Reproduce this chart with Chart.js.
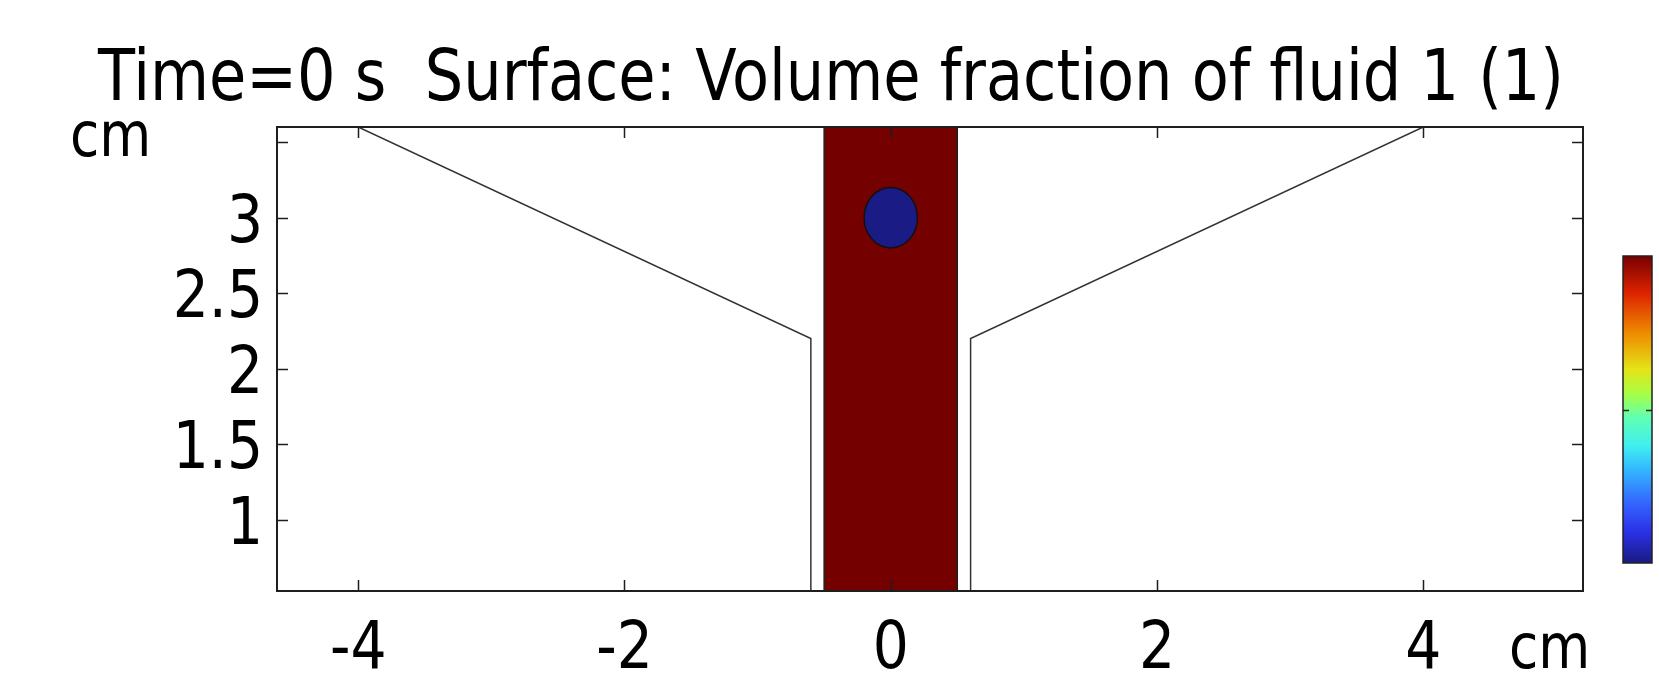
<!DOCTYPE html>
<html>
<head>
<meta charset="utf-8">
<title>Volume fraction of fluid 1</title>
<script src="https://cdn.jsdelivr.net/npm/chart.js@4.4.1/dist/chart.umd.min.js"></script>
<style>
  html, body { margin: 0; padding: 0; background: #fff; }
  canvas { display: block; }
</style>
</head>
<body>
<canvas id="phaseChart" width="1659" height="678"></canvas>
<script>
// channel geometry (cm)
const channelX = [-0.5, -0.5, 0.5, 0.5];
const channelY = [0.5, 3.6, 3.6, 0.5];
const leftWallX = [-4, -0.6, -0.6];
const leftWallY = [3.6, 2.2, 0.5];
const rightWallX = [4, 0.6, 0.6];
const rightWallY = [3.6, 2.2, 0.5];

// drop of fluid 2 at t = 0
const dropCenter = [0, 3];
const dropRadius = 0.2;

// axes
const xRange = [-4.61, 5.2];
const yRange = [0.53, 3.6];
const xTicks = [-4, -2, 0, 2, 4];
const yTicks = [1, 1.5, 2, 2.5, 3, 3.5];
const xTickLabels = ['-4', '-2', '0', '2', '4'];
const yTickLabels = ['1', '1.5', '2', '2.5', '3', ''];
const unitLabel = 'cm';
const titleText = 'Time=0 s  Surface: Volume fraction of fluid 1 (1)';

// rainbow table for the color legend, volume fraction 0 -> 1
const rainbowStops = [0, 0.1, 0.2, 0.3, 0.38, 0.47, 0.55, 0.63, 0.75, 0.88, 1];
const rainbowColors = ['#1a1a80', '#2a30e6', '#3468ff', '#33b4ff', '#40eef0', '#5effb6',
  '#a6ff45', '#e4e416', '#ee8a00', '#dc2200', '#780000'];

const fluid1Color = '#740000';
const fluid2Color = '#1b1b85';
const ink = '#1e1e1e';
const FONT = '"DejaVu Sans", sans-serif';
const SQUEEZE = 0.86;   // narrow glyphs, like the solver's export

const toPoints = (xs, ys) => xs.map((x, i) => ({ x: x, y: ys[i] }));

function squeezedText(ctx, text, x, y, size, align, sx) {
  ctx.save();
  ctx.font = size + 'px ' + FONT;
  ctx.fillStyle = '#000';
  ctx.textAlign = align;
  ctx.textBaseline = 'alphabetic';
  ctx.translate(x, y);
  ctx.scale(sx, 1);
  ctx.fillText(text, 0, 0);
  ctx.restore();
}

// the drop, as an ellipse in data units
const dropPlugin = {
  id: 'drop',
  afterDatasetsDraw(chart) {
    const { ctx, chartArea } = chart;
    const xs = chart.scales.x, ys = chart.scales.y;
    const cx = xs.getPixelForValue(dropCenter[0]);
    const cy = ys.getPixelForValue(dropCenter[1]);
    const rx = Math.abs(xs.getPixelForValue(dropCenter[0] + dropRadius) - cx);
    const ry = Math.abs(ys.getPixelForValue(dropCenter[1] + dropRadius) - cy);
    ctx.save();
    ctx.beginPath();
    ctx.rect(chartArea.left, chartArea.top, chartArea.width, chartArea.height);
    ctx.clip();
    ctx.beginPath();
    ctx.ellipse(cx, cy, rx, ry, 0, 0, Math.PI * 2);
    ctx.fillStyle = fluid2Color;
    ctx.fill();
    ctx.lineWidth = 1.5;
    ctx.strokeStyle = '#111';
    ctx.stroke();
    ctx.restore();
  }
};

// box frame, inward ticks, labels, title and color legend
const framePlugin = {
  id: 'frame',
  afterDraw(chart) {
    const { ctx, chartArea: a } = chart;
    const xs = chart.scales.x, ys = chart.scales.y;
    const tl = 11;

    ctx.save();
    ctx.strokeStyle = ink;
    ctx.lineWidth = 1.5;
    ctx.beginPath();
    xs.ticks.forEach(t => {
      const px = Math.round(xs.getPixelForValue(t.value)) + 0.5;
      ctx.moveTo(px, a.bottom); ctx.lineTo(px, a.bottom - tl);
      ctx.moveTo(px, a.top); ctx.lineTo(px, a.top + tl);
    });
    ys.ticks.forEach(t => {
      const py = Math.round(ys.getPixelForValue(t.value)) + 0.5;
      ctx.moveTo(a.left, py); ctx.lineTo(a.left + tl, py);
      ctx.moveTo(a.right, py); ctx.lineTo(a.right - tl, py);
    });
    ctx.stroke();
    ctx.lineWidth = 2;
    ctx.strokeRect(a.left, a.top, a.right - a.left, a.bottom - a.top);
    ctx.restore();

    // tick labels
    xs.ticks.forEach((t, i) => {
      squeezedText(ctx, xTickLabels[i], xs.getPixelForValue(t.value), 668, 66, 'center', SQUEEZE);
    });
    ys.ticks.forEach((t, i) => {
      if (!yTickLabels[i]) return;
      squeezedText(ctx, yTickLabels[i], a.left - 14, ys.getPixelForValue(t.value) + 24, 66, 'right', SQUEEZE);
    });
    squeezedText(ctx, unitLabel, 70, 156, 62, 'left', SQUEEZE);
    squeezedText(ctx, unitLabel, 1509, 668, 62, 'left', SQUEEZE);

    // title, stretched across the plot
    ctx.save();
    ctx.font = '71px ' + FONT;
    const tw = ctx.measureText(titleText).width;
    ctx.restore();
    squeezedText(ctx, titleText, 98, 100, 71, 'left', 1466 / tw);

    // color legend
    const bx = 1623, bw = 29, bTop = 256, bBottom = 563;
    const grad = ctx.createLinearGradient(0, bBottom, 0, bTop);
    rainbowStops.forEach((s, i) => grad.addColorStop(s, rainbowColors[i]));
    ctx.save();
    ctx.fillStyle = grad;
    ctx.fillRect(bx, bTop, bw, bBottom - bTop);
    ctx.strokeStyle = '#222';
    ctx.lineWidth = 1.5;
    ctx.strokeRect(bx, bTop, bw, bBottom - bTop);
    const mid = Math.round((bTop + bBottom) / 2) + 0.5;
    ctx.beginPath();
    ctx.moveTo(bx, mid); ctx.lineTo(bx + 6, mid);
    ctx.moveTo(bx + bw, mid); ctx.lineTo(bx + bw - 6, mid);
    ctx.stroke();
    ctx.restore();
  }
};

const lineStyle = {
  showLine: true,
  pointRadius: 0,
  pointHoverRadius: 0,
  tension: 0,
  clip: 0,
};

const data = {
  datasets: [
    {
      ...lineStyle,
      label: 'fluid 1',
      data: toPoints(channelX, channelY),
      borderColor: ink,
      borderWidth: 1.5,
      backgroundColor: fluid1Color,
      fill: 'start',
    },
    {
      ...lineStyle,
      label: 'left wall',
      data: toPoints(leftWallX, leftWallY),
      borderColor: '#333',
      borderWidth: 1.5,
      fill: false,
    },
    {
      ...lineStyle,
      label: 'right wall',
      data: toPoints(rightWallX, rightWallY),
      borderColor: '#333',
      borderWidth: 1.5,
      fill: false,
    },
  ],
};

const config = {
  type: 'scatter',
  data,
  options: {
    responsive: false,
    animation: false,
    devicePixelRatio: 1,
    layout: { padding: { top: 127, right: 76, left: 0, bottom: 0 } },
    plugins: {
      legend: { display: false },
      tooltip: { enabled: false },
    },
    scales: {
      x: {
        type: 'linear',
        min: xRange[0],
        max: xRange[1],
        afterBuildTicks: (scale) => { scale.ticks = xTicks.map(v => ({ value: v })); },
        afterFit: (scale) => { scale.height = 87; },
        ticks: { display: false },
        grid: { display: false },
        border: { display: false },
      },
      y: {
        type: 'linear',
        min: yRange[0],
        max: yRange[1],
        afterBuildTicks: (scale) => { scale.ticks = yTicks.map(v => ({ value: v })); },
        afterFit: (scale) => { scale.width = 277; },
        ticks: { display: false },
        grid: { display: false },
        border: { display: false },
      },
    },
  },
  plugins: [dropPlugin, framePlugin],
};

const phaseChart = new Chart(document.getElementById('phaseChart'), config);
</script>
</body>
</html>
